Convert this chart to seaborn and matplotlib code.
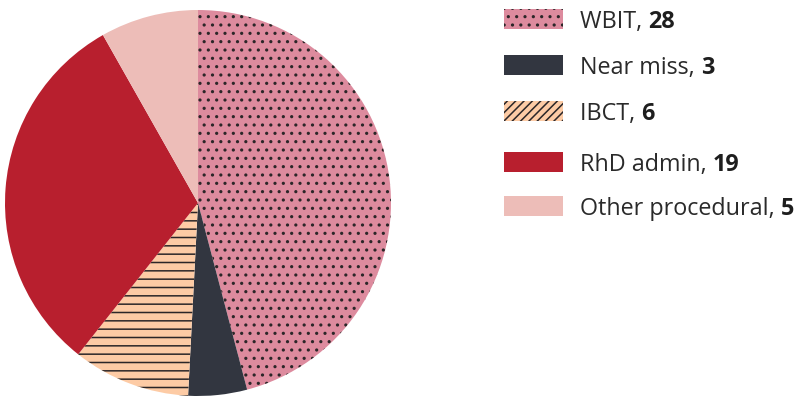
import matplotlib
matplotlib.use("Agg")
import matplotlib.pyplot as plt
import seaborn as sns
from matplotlib.patches import Rectangle

categories = ["WBIT", "Near miss", "IBCT", "RhD admin", "Other procedural"]
values = [28, 3, 6, 19, 5]
colors = ["#DD8B9E", "#323640", "#FDCBA5", "#B81F2E", "#EDBDB8"]
pie_hatches = ["..", "", "--", "", ""]
legend_hatches = ["..", "", "////", "", ""]

sns.set_theme(style="white")
plt.rcParams["font.family"] = ["Open Sans", "DejaVu Sans"]
plt.rcParams["hatch.linewidth"] = 1.1

W, H = 809, 396
fig = plt.figure(figsize=(W / 100, H / 100), dpi=100)
fig.patch.set_facecolor("white")

# pie axes: centre (198, 203 from top), radius 193 px
cx, cy, r = 198, 203, 193
ax = fig.add_axes([(cx - r) / W, (H - cy - r) / H, 2 * r / W, 2 * r / H])
wedges, _ = ax.pie(values, colors=colors, startangle=90, counterclock=False,
                   radius=1.0, wedgeprops=dict(linewidth=0))
for w, h in zip(wedges, pie_hatches):
    if h:
        w.set_hatch(h)
        w.set_edgecolor("#2b2628")
        w.set_linewidth(0)
ax.set_xlim(-1, 1)
ax.set_ylim(-1, 1)
ax.set_aspect("equal")
ax.axis("off")

# manual legend
row_y = [19, 65, 111, 162, 206]
sw_x, sw_w, sw_h = 504, 59, 20
text_x = 580
fs = 16.8
for name, val, col, h, y in zip(categories, values, colors, legend_hatches, row_y):
    rect = Rectangle((sw_x / W, (H - y - sw_h / 2) / H), sw_w / W, sw_h / H,
                     transform=fig.transFigure, facecolor=col,
                     edgecolor="#2b2628" if h else col, linewidth=0,
                     hatch=h if h else None)
    fig.patches.append(rect)
    t = fig.text(text_x / W, (H - y) / H, f"{name}, ", fontsize=fs,
                 color="#2a2a2a", va="center_baseline", ha="left")
    fig.canvas.draw()
    ax.annotate(str(val), xy=(1, 0), xycoords=t, va="bottom", ha="left",
                fontsize=fs, fontweight="bold", color="#1e1e1e",
                annotation_clip=False)

fig.savefig("out.png", dpi=100, facecolor="white")
